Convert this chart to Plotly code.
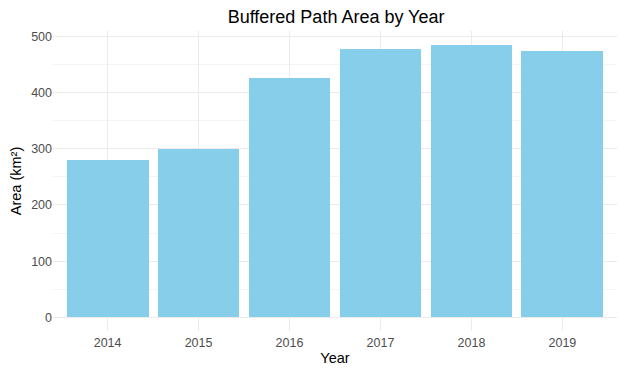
import plotly.graph_objects as go

years = [2014, 2015, 2016, 2017, 2018, 2019]
areas = [280, 300, 426, 478, 485, 474]
y_ticks = [0, 100, 200, 300, 400, 500]

fig = go.Figure(go.Bar(
    x=years, y=areas, width=0.9,
    marker=dict(color="#87CEEB", line=dict(width=0)),
))

fig.update_layout(
    width=627, height=376,
    margin=dict(l=53, r=10, t=31, b=45),
    paper_bgcolor="white", plot_bgcolor="white",
    font=dict(family="Liberation Sans, Arial, sans-serif", color="#4D4D4D"),
    title=dict(text="Buffered Path Area by Year", x=0.536, xanchor="center",
               y=0.955, yanchor="middle",
               font=dict(size=18, color="black")),
    showlegend=False,
    bargap=0,
)
fig.update_xaxes(
    range=[2013.4, 2019.6], tickvals=years, ticktext=[str(y) for y in years],
    showgrid=True, gridcolor="#EBEBEB", gridwidth=1, zeroline=False,
    showline=False, ticks="", tickfont=dict(size=12.5, color="#4D4D4D"),
    ticklabelstandoff=2,
    title=dict(text="Year", font=dict(size=14.5, color="black"), standoff=4),
)
fig.update_yaxes(
    range=[-24.25, 509.25], tickvals=y_ticks,
    showgrid=True, gridcolor="#EBEBEB", gridwidth=1, zeroline=False,
    minor=dict(dtick=50, tick0=0, showgrid=True, gridcolor="#F4F4F4", gridwidth=1),
    showline=False, ticks="", tickfont=dict(size=12.5, color="#4D4D4D"),
    title=dict(text="Area (km²)", font=dict(size=14.5, color="black"), standoff=6),
)

fig.write_html("out.html")
